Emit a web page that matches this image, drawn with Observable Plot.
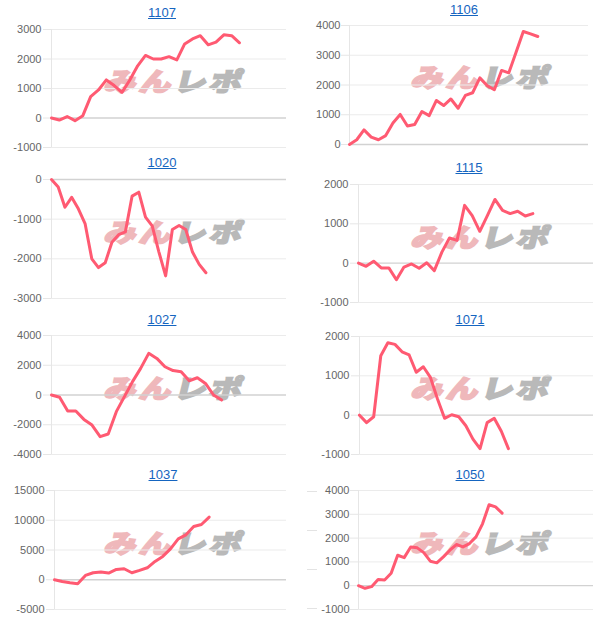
<!DOCTYPE html>
<html><head><meta charset="utf-8">
<script src="https://cdn.jsdelivr.net/npm/d3@7"></script>
<script src="https://cdn.jsdelivr.net/npm/@observablehq/plot@0.6"></script>
<style>
body{margin:0;background:#fff;font-family:"Liberation Sans",Arial,sans-serif}
#root{position:relative;width:614px;height:620px;overflow:hidden}
.panel{position:absolute;width:307px;height:155px}
.title{position:absolute;font-size:13px;line-height:16px;color:#1565c0;text-decoration:underline;text-align:center;width:120px}
.wm{position:absolute;left:106px;width:146px;height:26px;white-space:nowrap;font-family:"Noto Sans CJK JP",sans-serif;font-weight:900;font-size:32px;line-height:26px;letter-spacing:3px;transform:skewX(-14deg) scaleY(0.8);transform-origin:left center}
.wm .a{color:#efb8bb;-webkit-text-stroke:2.2px #efb8bb}
.wm .b{color:#b9b9b9;-webkit-text-stroke:2.2px #b9b9b9}
.panel svg{position:absolute;left:0}
.stub{position:absolute;left:307px;width:10px;height:1px;background:#e3e3e3}
</style></head><body><div id="root"></div>
<script>
const titles = ["1107","1106","1020","1115","1027","1071","1037","1050"];
const v1107 = [0,-70,50,-90,80,725,950,1290,1100,870,1290,1770,2120,2000,2000,2080,1970,2510,2680,2790,2480,2570,2820,2790,2550];
const v1106 = [0,160,490,250,160,300,720,1010,620,670,1110,970,1480,1310,1530,1220,1650,1740,2240,1980,1840,2490,2410,3100,3800,3720,3630];
const v1020 = [0,-190,-700,-450,-740,-1110,-2000,-2220,-2100,-1580,-1390,-1320,-420,-320,-950,-1170,-1830,-2430,-1260,-1160,-1260,-1830,-2140,-2350];
const v1115 = [0,-80,50,-120,-120,-420,-100,-20,-130,10,-190,280,640,580,1470,1210,810,1210,1620,1340,1260,1320,1200,1260];
const v1027 = [0,-150,-1080,-1080,-1640,-2020,-2800,-2620,-1120,-110,900,1790,2800,2460,1900,1640,1570,960,1160,780,0,-340];
const v1071 = [0,-190,-40,1510,1840,1800,1610,1530,1090,1230,960,410,-80,10,-40,-270,-610,-850,-190,-80,-410,-850];
const v1037 = [0,-280,-500,-670,730,1180,1290,1120,1730,1850,1180,1570,2010,3080,3920,5200,6880,7550,8950,9290,10520];
const v1050 = [0,-110,-40,260,240,520,1280,1180,1630,1590,1390,1030,960,1210,1490,1730,1630,1770,2050,2600,3400,3310,3050];
const series = [v1107,v1106,v1020,v1115,v1027,v1071,v1037,v1050];
const slotCounts = [31,34,36,32,30,34,31,37];
const t1107 = [-1000,0,1000,2000,3000];
const t1106 = [0,1000,2000,3000,4000];
const t1020 = [-3000,-2000,-1000,0];
const t1115 = [-1000,0,1000,2000];
const t1027 = [-4000,-2000,0,2000,4000];
const t1071 = [-1000,0,1000,2000];
const t1037 = [-5000,0,5000,10000,15000];
const t1050 = [-1000,0,1000,2000,3000,4000];
const tickSets = [t1107,t1106,t1020,t1115,t1027,t1071,t1037,t1050];
const wmText = ["みん","レポ"];

// layout (pixels within each 307x155 cell)
const layout = [
  {col:0,row:0,titleY:13,top:29,bottom:147,axisX:51,right:286,pad:2,tx:162,wm:67},
  {col:1,row:0,titleY:10,top:25,bottom:144,axisX:42,right:281,pad:1,tx:157,wm:63},
  {col:0,row:1,titleY:8,top:24,bottom:143,axisX:51,right:286,pad:2,tx:162,wm:63},
  {col:1,row:1,titleY:13,top:29,bottom:147,axisX:51,right:286,pad:2,tx:162,wm:68},
  {col:0,row:2,titleY:10,top:25,bottom:144,axisX:51,right:286,pad:2,tx:162,wm:64},
  {col:1,row:2,titleY:10,top:26,bottom:144,axisX:52,right:286,pad:2,tx:163,wm:64},
  {col:0,row:3,titleY:10,top:25,bottom:144,axisX:54,right:286,pad:2,tx:163,wm:64},
  {col:1,row:3,titleY:10,top:25,bottom:144,axisX:51,right:286,pad:1,tx:163,wm:64}
];

const root = document.getElementById("root");
const M = 8;
series.forEach((vals, k) => {
  const L = layout[k];
  const ticks = tickSets[k];
  const panel = document.createElement("div");
  panel.className = "panel";
  panel.style.left = (L.col*307) + "px";
  panel.style.top = (L.row*155) + "px";

  const wm = document.createElement("div");
  wm.className = "wm";
  wm.style.top = L.wm + "px";
  wm.innerHTML = `<span class="a">${wmText[0]}</span><span class="b">${wmText[1]}</span>`;
  panel.appendChild(wm);

  const data = vals.map((v,i) => ({i, v}));
  const chart = Plot.plot({
    width: 307,
    height: (L.bottom - L.top) + 2*M,
    marginTop: M, marginBottom: M,
    marginLeft: L.axisX, marginRight: 307 - L.right,
    style: {background: "transparent", color: "#666", fontSize: "11px", fontFamily: "'Liberation Sans', Arial, sans-serif", overflow: "visible"},
    x: {domain: [0, slotCounts[k]-1], axis: null},
    y: {domain: [d3.min(ticks), d3.max(ticks)], axis: null},
    marks: [
      Plot.ruleY(ticks.filter(t => t !== 0), {stroke: "#ebebeb", strokeWidth: 1}),
      Plot.ruleY([0], {stroke: "#d2d2d2", strokeWidth: 1.3}),
      Plot.ruleX([0], {stroke: "#e6e6e6", strokeWidth: 1}),
      Plot.axisY(ticks, {tickSize: 8, tickPadding: L.pad, stroke: "#e6e6e6", strokeOpacity: 1, tickFormat: d => String(d), label: null, fill: "#666", fontSize: 11}),
      Plot.line(data, {x: "i", y: "v", stroke: "#ff5a72", strokeWidth: 3, strokeLinejoin: "round", strokeLinecap: "round"})
    ]
  });
  chart.style.top = (L.top - M) + "px";
  panel.appendChild(chart);

  const t = document.createElement("div");
  t.className = "title";
  t.textContent = titles[k];
  t.style.left = (L.tx - 60) + "px";
  t.style.top = (L.titleY - 8) + "px";
  panel.appendChild(t);

  root.appendChild(panel);
});

// faint stray gridline stubs visible at the left edge of the last panel
[491, 530, 569, 608].forEach(y => {
  const s = document.createElement("div");
  s.className = "stub";
  s.style.top = y + "px";
  root.appendChild(s);
});
</script></body></html>
